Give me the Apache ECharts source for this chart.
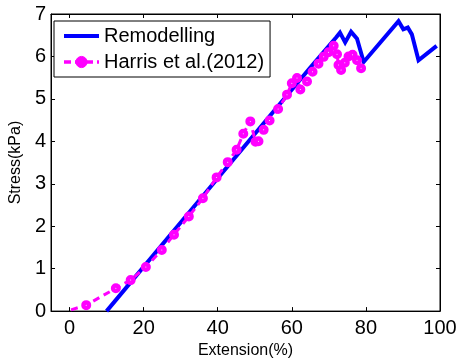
<!DOCTYPE html>
<html>
<head>
<meta charset="utf-8">
<script src="https://cdn.jsdelivr.net/npm/echarts@6/dist/echarts.min.js"></script>
<style>
html,body{margin:0;padding:0;background:#fff;}
#chart{width:460px;height:364px;}
</style>
</head>
<body>
<div id="chart"></div>
<script>
// values
var seriesNames = ['Remodelling', 'Harris et al.(2012)'];
var xTicks = [0, 20, 40, 60, 80, 100];

var remodelling = [
  [10, 0], [40, 3.13], [65, 5.74], [72, 6.45], [73, 6.56], [74.4, 6.33],
  [76, 6.58], [77.6, 6.42], [79.4, 5.87], [88.8, 6.83], [90.1, 6.64],
  [91.3, 6.68], [92.4, 6.52], [94.2, 5.91], [99.1, 6.25]
];

var harris = [
  [0.4, 0.03], [4.5, 0.14], [12.5, 0.54], [16.5, 0.73], [20.6, 1.04],
  [24.9, 1.44], [28.2, 1.80], [32.2, 2.23], [36.0, 2.66], [39.7, 3.15],
  [42.7, 3.51], [45.1, 3.80], [46.9, 4.18], [48.8, 4.47], [50.2, 3.99],
  [51.0, 4.0], [52.4, 4.27], [54.0, 4.49], [56.3, 4.76], [58.7, 5.10],
  [60.0, 5.37], [61.4, 5.49], [62.3, 5.22], [64.1, 5.41], [65.6, 5.64],
  [67.2, 5.83], [68.6, 5.99], [69.9, 6.10], [71.3, 6.25], [72.2, 6.05],
  [72.6, 5.80], [73.3, 5.68], [74.3, 5.85], [75.3, 6.0], [76.4, 6.04],
  [77.6, 5.91], [78.7, 5.72]
];

var font = 'Liberation Sans, Arial, sans-serif';
var chart = echarts.init(document.getElementById('chart'));

// first measured point has no visible marker in the original
var harrisData = harris.map(function (p, i) {
  return i === 0 ? {value: p, symbol: 'none'} : p;
});

var baseX = {
  type: 'value', min: -5, max: 100,
  axisLine: {show: true, onZero: false, lineStyle: {color: '#000', width: 1}},
  axisTick: {show: true, inside: true, length: 4, customValues: xTicks, lineStyle: {color: '#000'}},
  axisLabel: {show: true, customValues: xTicks, color: '#000', fontSize: 20, fontFamily: font, margin: 7},
  splitLine: {show: false}
};
var baseY = {
  type: 'value', min: 0, max: 7, interval: 1,
  axisLine: {show: true, onZero: false, lineStyle: {color: '#000', width: 1}},
  axisTick: {show: true, inside: true, length: 4, lineStyle: {color: '#000'}},
  axisLabel: {show: true, color: '#000', fontSize: 20, fontFamily: font, margin: 5},
  splitLine: {show: false}
};

var option = {
  animation: false,
  backgroundColor: '#fff',
  grid: {left: 48, right: 20, top: 14, bottom: 46, show: true, borderColor: '#000', borderWidth: 1},
  legend: {
    orient: 'vertical', left: 54, top: 21,
    padding: [5, 6, 5, 8], itemGap: 6, itemWidth: 35, itemHeight: 14,
    backgroundColor: '#fff', borderColor: '#000', borderWidth: 1,
    textStyle: {color: '#000', fontSize: 20, fontFamily: font},
    data: [
      {name: seriesNames[0], itemStyle: {opacity: 0}, lineStyle: {width: 4, color: '#0000ff'}},
      {name: seriesNames[1], itemStyle: {color: '#ff00ff', borderColor: '#ff00ff', borderWidth: 1},
        lineStyle: {width: 3.5, color: '#ff00ff', type: [7, 4]}}
    ]
  },
  xAxis: [
    Object.assign({}, baseX, {
      position: 'bottom', name: 'Extension(%)', nameLocation: 'middle', nameGap: 30,
      nameTextStyle: {color: '#000', fontSize: 16, fontFamily: font}
    }),
    Object.assign({}, baseX, {position: 'top', axisLabel: {show: false}})
  ],
  yAxis: [
    Object.assign({}, baseY, {
      position: 'left', name: 'Stress(kPa)', nameLocation: 'middle', nameGap: 20,
      nameTextStyle: {color: '#000', fontSize: 16, fontFamily: font}
    }),
    Object.assign({}, baseY, {position: 'right', axisLabel: {show: false}})
  ],
  series: [
    {
      name: seriesNames[0], type: 'line', data: remodelling,
      showSymbol: false, symbol: 'none',
      lineStyle: {color: '#0000ff', width: 4, join: 'miter'},
      itemStyle: {color: '#0000ff'}
    },
    {
      name: seriesNames[1], type: 'line', data: harrisData,
      symbol: 'circle', symbolSize: 5.5,
      lineStyle: {color: '#ff00ff', width: 3, type: [7, 5]},
      itemStyle: {color: '#fff', borderColor: '#ff00ff', borderWidth: 4.5}
    }
  ]
};
chart.setOption(option);
</script>
</body>
</html>
